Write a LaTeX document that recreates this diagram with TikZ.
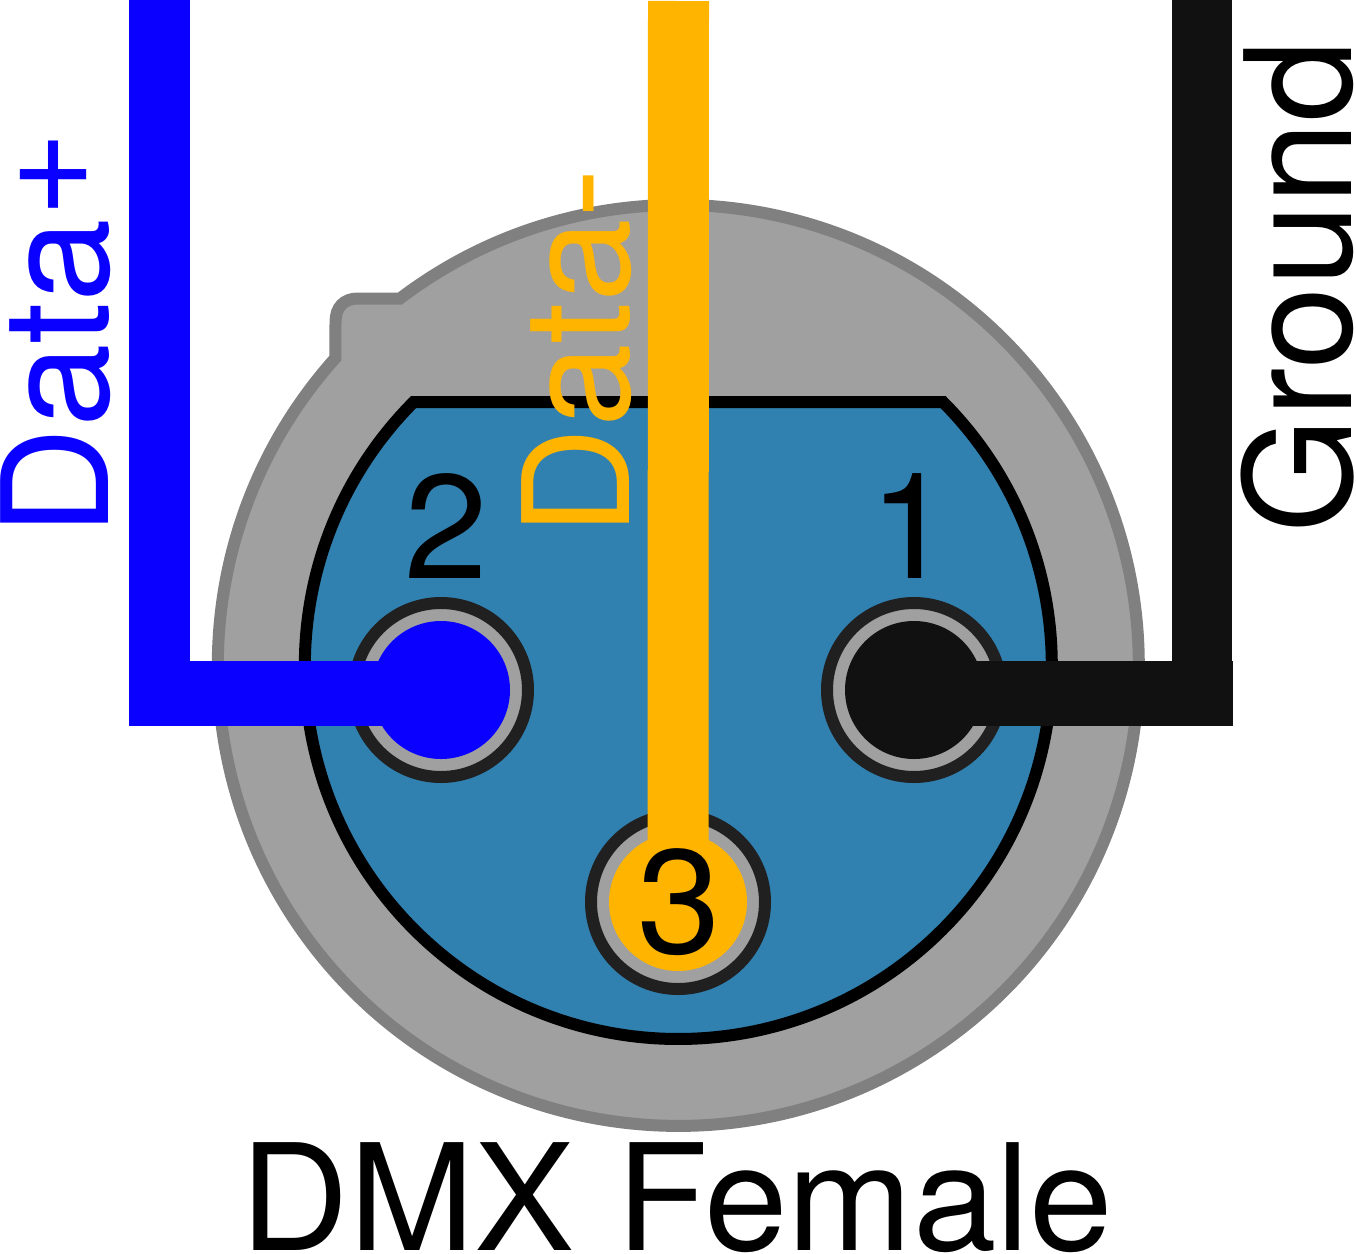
\documentclass[tikz,border=0pt]{standalone}
\usepackage{fontspec}
\setmainfont[FakeStretch=1.015]{TeX Gyre Heros}
\newfontfamily\groundfont{TeX Gyre Heros}
\definecolor{bodygray}{HTML}{A0A0A0}
\definecolor{bodyedge}{HTML}{808080}
\definecolor{insert}{HTML}{3080B0}
\definecolor{ringdark}{HTML}{202020}
\definecolor{wireblue}{HTML}{0A00FF}
\definecolor{wireyellow}{HTML}{FFB400}
\definecolor{wireblack}{HTML}{111111}
\tikzset{
  pinring/.style={circle,draw=ringdark,fill=bodygray,line width=12pt,minimum size=174pt,inner sep=0pt,outer sep=0pt},
  pincore/.style={circle,fill=#1,minimum size=138pt,inner sep=0pt,outer sep=0pt},
  label/.style={inner sep=0pt,outer sep=0pt,font=\fontsize{148}{148}\selectfont},
  sidelabel/.style={label,anchor=base west,rotate=90,text=#1},
  digit/.style={label,anchor=base,text=black},
  wire/.style={draw=#1,line cap=butt,line join=miter}
}
\begin{document}
\begin{tikzpicture}[x=1pt,y=-1pt]
\useasboundingbox (0,0) rectangle (1356,1253);
% shell with key
\draw[fill=bodygray,draw=bodyedge,line width=12pt,line join=miter]
  (380,298.5) -- (400,298.5) arc[start angle=232.82,end angle=581.88,radius=460.5]
  -- (335.5,322) .. controls (335.5,307) and (344,298.5) .. (358,298.5) -- cycle;
% insert
\draw[fill=insert,draw=black,line width=12pt,line join=miter]
  (678,402) -- (943,402) arc[start angle=315.13,end angle=584.87,radius=373.5] -- cycle;
% pins
\node[pinring] (ring2) at (441,690) {};
\node[pinring] (ring1) at (914,690) {};
\node[pinring] (ring3) at (678,902) {};
\node[pincore=wireblue] (pin2) at (441,690) {};
\node[pincore=wireblack] (pin1) at (914,690) {};
\node[pincore=wireyellow] (pin3) at (678,902) {};
% wire ends
\coordinate (top2) at (159.7,0);
\coordinate (bend2) at (159.7,661);
\coordinate (left2) at (129,693.3);
\coordinate (join2) at (441,693.3);
\coordinate (top1) at (1202,0);
\coordinate (bend1) at (1202,661);
\coordinate (right1) at (1233,693.3);
\coordinate (join1) at (914,693.3);
\coordinate (top3) at (678.5,1);
% wires
\draw[wire=wireblue,line width=60.7pt] (top2) -- (bend2);
\draw[wire=wireblue,line width=64.7pt] (left2) -- (join2);
\draw[wire=wireblack,line width=60.7pt] (top1) -- (bend1);
\draw[wire=wireblack,line width=64.7pt] (right1) -- (join1);
\draw[wire=wireyellow,line width=61pt] (top3) -- (pin3.center);
% labels
\node[sidelabel=wireblue] (dataplus) at (108.5,536) {Data\raisebox{18pt}{+}};
\node[sidelabel=wireyellow] (dataminus) at (629,536) {Data-};
\node[sidelabel=black] (ground) at (1351,533) {\groundfont Ground};
\node[digit] (n2) at (446,578) {2};
\node[digit] (n1) at (911,578) {1};
\node[digit] (n3) at (679.5,953) {3};
\node[label,anchor=base,text=black] (title) at (677,1250.5) {DMX Female};
\end{tikzpicture}
\end{document}
